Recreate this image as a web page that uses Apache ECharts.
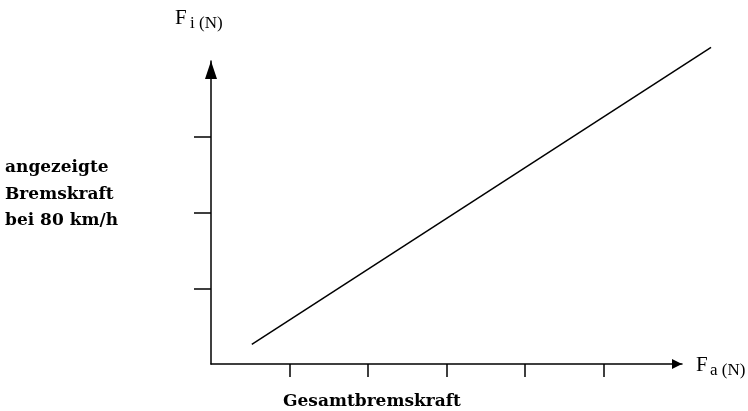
<!DOCTYPE html>
<html>
<head>
<meta charset="utf-8">
<script src="https://cdn.jsdelivr.net/npm/echarts@6/dist/echarts.min.js"></script>
<style>
  html, body { margin: 0; padding: 0; background: #fff; }
  #chart { width: 748px; height: 411px; }
</style>
</head>
<body>
<div id="chart"></div>
<script>
// axis ticks (no labels shown in the figure)
const xTicks = [1, 2, 3, 4, 5];
const yTicks = [1, 2, 3];
// the straight line Fi over Fa (it runs past the arrow heads)
const lineX = [0.52, 6.37];
const lineY = [0.26, 4.18];

const yLabel = ["angezeigte", "Bremskraft", "bei 80 km/h"];
const xLabel = "Gesamtbremskraft";

const serif = "'Liberation Serif', 'DejaVu Serif', serif";
const boldSerif = "'DejaVu Serif', serif";

// one unit on each axis in px, used for the hidden grid the line lives on
const unitX = 471 / 6;
const unitY = 303 / 4;

const chart = echarts.init(document.getElementById("chart"));

const hidden = {
  type: "value",
  show: false,
  axisLabel: { show: false },
  splitLine: { show: false },
  axisLine: { show: false },
  axisTick: { show: false },
};

chart.setOption({
  backgroundColor: "#fff",
  animation: false,
  grid: [
    { left: 211, right: 66, top: 61, bottom: 47 },
    // same origin and scale, bigger extent so the line is not cut at the arrows
    { left: 211, bottom: 47, width: unitX * 6.5, height: unitY * 4.5 },
  ],
  xAxis: [
    {
      type: "value",
      min: 0,
      max: 6,
      interval: 1,
      axisLabel: { show: false },
      splitLine: { show: false },
      axisLine: {
        lineStyle: { color: "#000", width: 1.5 },
        symbol: ["none", "triangle"],
        symbolSize: [10, 10],
        symbolOffset: [0, -5],
      },
      axisTick: {
        show: true,
        length: 13,
        customValues: xTicks,
        lineStyle: { color: "#000", width: 1.5 },
      },
    },
    Object.assign({}, hidden, { gridIndex: 1, min: 0, max: 6.5 }),
  ],
  yAxis: [
    {
      type: "value",
      min: 0,
      max: 4,
      interval: 1,
      axisLabel: { show: false },
      splitLine: { show: false },
      axisLine: {
        show: true,
        lineStyle: { color: "#000", width: 1.5 },
        symbol: ["none", "triangle"],
        symbolSize: [12, 18],
        symbolOffset: [0, -9],
      },
      axisTick: {
        show: true,
        length: 17,
        customValues: yTicks,
        lineStyle: { color: "#000", width: 1.5 },
      },
    },
    Object.assign({}, hidden, { gridIndex: 1, min: 0, max: 4.5 }),
  ],
  series: [
    {
      type: "line",
      xAxisIndex: 1,
      yAxisIndex: 1,
      data: lineX.map((x, i) => [x, lineY[i]]),
      showSymbol: false,
      clip: false,
      lineStyle: { color: "#000", width: 1.5 },
    },
  ],
  graphic: [
    // Fi (N)
    { type: "text", x: 175, y: 29, style: { text: "F", font: "21px " + serif, fill: "#000", verticalAlign: "bottom" } },
    { type: "text", x: 190, y: 32, style: { text: "i (N)", font: "17px " + serif, fill: "#000", verticalAlign: "bottom" } },
    // Fa (N)
    { type: "text", x: 696, y: 376, style: { text: "F", font: "21px " + serif, fill: "#000", verticalAlign: "bottom" } },
    { type: "text", x: 710, y: 379, style: { text: "a (N)", font: "17px " + serif, fill: "#000", verticalAlign: "bottom" } },
    // left label
    ...yLabel.map((t, i) => ({
      type: "text",
      x: 5,
      y: 176 + i * 26.7,
      style: { text: t, font: "bold 17px " + boldSerif, fill: "#000", verticalAlign: "bottom" },
    })),
    // bottom label
    { type: "text", x: 283, y: 410, style: { text: xLabel, font: "bold 17px " + boldSerif, fill: "#000", verticalAlign: "bottom" } },
  ],
});
</script>
</body>
</html>
